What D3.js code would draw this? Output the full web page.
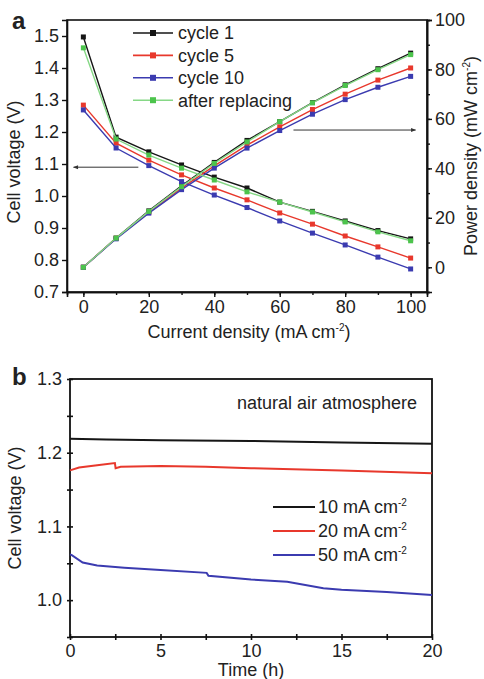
<!DOCTYPE html>
<html>
<head>
<meta charset="utf-8">
<script src="https://cdn.jsdelivr.net/npm/d3@7/dist/d3.min.js"></script>
<style>
  html, body { margin: 0; padding: 0; background: #fff; }
  svg { display: block; }
  text { font-family: "Liberation Sans", Arial, Helvetica, sans-serif; fill: #222; }
</style>
</head>
<body>
<svg id="fig" width="484" height="679"></svg>
<script>
// ---------- Panel a: polarization and power density curves ----------
const currents = [0, 10, 20, 30, 40, 50, 60, 70, 80, 90, 100];

const voltCycle1   = [1.497, 1.184, 1.138, 1.097, 1.059, 1.025, 0.981, 0.952, 0.922, 0.892, 0.866];
const voltCycle5   = [1.284, 1.165, 1.112, 1.066, 1.025, 0.988, 0.947, 0.912, 0.875, 0.841, 0.806];
const voltCycle10  = [1.269, 1.150, 1.095, 1.045, 1.003, 0.964, 0.922, 0.884, 0.847, 0.809, 0.772];
const voltReplaced = [1.463, 1.178, 1.128, 1.087, 1.050, 1.013, 0.981, 0.950, 0.919, 0.888, 0.860];

const powerCycle1   = [0, 11.8, 22.8, 32.9, 42.4, 51.3, 58.9, 66.6, 73.8, 80.3, 86.6];
const powerCycle5   = [0, 11.7, 22.2, 32.0, 41.0, 49.4, 56.8, 63.8, 70.0, 75.7, 80.6];
const powerCycle10  = [0, 11.5, 21.9, 31.4, 40.1, 48.2, 55.3, 61.9, 67.8, 72.8, 77.2];
const powerReplaced = [0, 11.8, 22.6, 32.6, 42.0, 50.7, 58.9, 66.5, 73.5, 79.9, 86.0];

const cycleNames = ["cycle 1", "cycle 5", "cycle 10", "after replacing"];

const currentTicks = [0, 20, 40, 60, 80, 100];
const voltTicksA   = [0.7, 0.8, 0.9, 1.0, 1.1, 1.2, 1.3, 1.4, 1.5];
const powerTicks   = [0, 20, 40, 60, 80, 100];

// ---------- Panel b: stability at constant current ----------
const time10 = [0, 2, 5, 10, 15, 20];
const volt10 = [1.219, 1.218, 1.217, 1.216, 1.214, 1.212];

const time20 = [0, 0.5, 1.5, 2.48, 2.52, 2.8, 5, 7.5, 10, 15, 20];
const volt20 = [1.176, 1.180, 1.183, 1.186, 1.179, 1.181, 1.182, 1.181, 1.179, 1.176, 1.172];

const time50 = [0, 0.1, 0.7, 1.5, 3, 5, 7.55, 7.65, 10, 12, 14, 15, 17.5, 20];
const volt50 = [1.062, 1.061, 1.051, 1.047, 1.044, 1.041, 1.037, 1.033, 1.028, 1.025, 1.016, 1.014, 1.011, 1.007];

const stabilityNames = ["10 mA cm", "20 mA cm", "50 mA cm"];
const timeTicks  = [0, 5, 10, 15, 20];
const voltTicksB = [1.0, 1.1, 1.2, 1.3];

// ---------- styling ----------
const colors = { black: "#161616", red: "#e8382c", blue: "#3b3bb0", green: "#4cc44c", greenLine: "#86d886" };
const FONT = 18;

const svg = d3.select("#fig");

// ================= Panel a =================
const A = { left: 67, right: 427, top: 20, bottom: 292 };
const xA  = d3.scaleLinear().domain([-5, 105]).range([A.left, A.right]);
const yAv = d3.scaleLinear().domain([0.7, 1.55]).range([A.bottom, A.top]);
const yAp = d3.scaleLinear().domain([-10, 100]).range([A.bottom, A.top]);

const gA = svg.append("g");

// frame
gA.append("rect")
  .attr("x", A.left).attr("y", A.top)
  .attr("width", A.right - A.left).attr("height", A.bottom - A.top)
  .attr("fill", "none").attr("stroke", "#111").attr("stroke-width", 1.6);

function styleAxis(g) {
  g.select(".domain").attr("stroke", "#111").attr("stroke-width", 1.6);
  g.selectAll(".tick line").attr("stroke", "#111").attr("stroke-width", 1.4);
  g.selectAll(".tick text").attr("font-size", FONT).attr("font-family", "Liberation Sans, Arial, sans-serif").attr("fill", "#222");
}

// bottom axis with minor ticks
gA.append("g").attr("transform", `translate(0,${A.bottom})`)
  .call(d3.axisBottom(xA).tickValues(d3.range(0, 101, 10)).tickSize(3).tickFormat(""))
  .call(styleAxis);
gA.append("g").attr("transform", `translate(0,${A.bottom})`)
  .call(d3.axisBottom(xA).tickValues(currentTicks).tickSize(5).tickPadding(3).tickFormat(d3.format("d")))
  .call(styleAxis);

// left axis (voltage)
gA.append("g").attr("transform", `translate(${A.left},0)`)
  .call(d3.axisLeft(yAv).tickValues(voltTicksA).tickSize(5).tickPadding(3).tickFormat(d3.format(".1f")))
  .call(styleAxis);

// right axis (power density) with minor ticks
gA.append("g").attr("transform", `translate(${A.right},0)`)
  .call(d3.axisRight(yAp).tickValues(d3.range(-10, 101, 10)).tickSize(3).tickFormat(""))
  .call(styleAxis);
gA.append("g").attr("transform", `translate(${A.right},0)`)
  .call(d3.axisRight(yAp).tickValues(powerTicks).tickSize(5).tickPadding(3).tickFormat(d3.format("d")))
  .call(styleAxis);

const seriesA = [
  { name: cycleNames[0], volt: voltCycle1,   power: powerCycle1,   line: colors.black, mark: colors.black },
  { name: cycleNames[1], volt: voltCycle5,   power: powerCycle5,   line: colors.red,   mark: colors.red },
  { name: cycleNames[2], volt: voltCycle10,  power: powerCycle10,  line: colors.blue,  mark: colors.blue },
  { name: cycleNames[3], volt: voltReplaced, power: powerReplaced, line: colors.greenLine, mark: colors.green }
];

const MS = 5; // marker size
seriesA.forEach(s => {
  const vPts = currents.map((c, i) => [c, s.volt[i]]);
  const pPts = currents.map((c, i) => [c, s.power[i]]);
  const lineV = d3.line().x(d => xA(d[0])).y(d => yAv(d[1]));
  const lineP = d3.line().x(d => xA(d[0])).y(d => yAp(d[1]));
  gA.append("path").attr("d", lineV(vPts)).attr("fill", "none").attr("stroke", s.line).attr("stroke-width", 1.4);
  gA.append("path").attr("d", lineP(pPts)).attr("fill", "none").attr("stroke", s.line).attr("stroke-width", 1.4);
  gA.selectAll(null).data(vPts.concat(pPts)).enter().append("rect")
    .attr("x", d => xA(d[0]) - MS / 2)
    .attr("y", (d, i) => (i < vPts.length ? yAv(d[1]) : yAp(d[1])) - MS / 2)
    .attr("width", MS).attr("height", MS)
    .attr("fill", s.mark);
});

// arrows pointing each curve family to its axis
const defs = svg.append("defs");
defs.append("marker").attr("id", "arrowhead")
  .attr("viewBox", "0 0 10 10").attr("refX", 9).attr("refY", 5)
  .attr("markerWidth", 7).attr("markerHeight", 5).attr("orient", "auto")
  .append("path").attr("d", "M0,1 L10,5 L0,9 Z").attr("fill", "#333");

gA.append("line")
  .attr("x1", xA(16.8)).attr("x2", xA(-3)).attr("y1", yAv(1.09)).attr("y2", yAv(1.09))
  .attr("stroke", "#333").attr("stroke-width", 1).attr("marker-end", "url(#arrowhead)");
gA.append("line")
  .attr("x1", xA(64.2)).attr("x2", xA(101.5)).attr("y1", yAp(55.5)).attr("y2", yAp(55.5))
  .attr("stroke", "#333").attr("stroke-width", 1).attr("marker-end", "url(#arrowhead)");

// legend
const legA = gA.append("g");
seriesA.forEach((s, i) => {
  const y = 33 + i * 22.4;
  legA.append("line").attr("x1", 133).attr("x2", 173).attr("y1", y).attr("y2", y)
    .attr("stroke", s.line).attr("stroke-width", 1.6);
  legA.append("rect").attr("x", 153 - 3).attr("y", y - 3).attr("width", 6).attr("height", 6).attr("fill", s.mark);
  legA.append("text").attr("x", 178).attr("y", y).attr("dy", "0.35em")
    .attr("font-size", FONT).text(s.name);
});

// axis titles
gA.append("text").attr("transform", `translate(20,${(A.top + A.bottom) / 2 + 6}) rotate(-90)`)
  .attr("text-anchor", "middle").attr("font-size", FONT).text("Cell voltage (V)");

const pTitle = gA.append("text").attr("transform", `translate(477,${(A.top + A.bottom) / 2}) rotate(-90)`)
  .attr("text-anchor", "middle").attr("font-size", FONT);
pTitle.append("tspan").text("Power density (mW cm");
pTitle.append("tspan").attr("font-size", 10).attr("dy", -7).text("-2");
pTitle.append("tspan").attr("dy", 7).text(")");

const xTitleA = gA.append("text").attr("x", (xA(0) + xA(100)) / 2 + 2).attr("y", 338)
  .attr("text-anchor", "middle").attr("font-size", FONT);
xTitleA.append("tspan").text("Current density (mA cm");
xTitleA.append("tspan").attr("font-size", 10).attr("dy", -7).text("-2");
xTitleA.append("tspan").attr("dy", 7).text(")");

svg.append("text").attr("x", 12).attr("y", 29).attr("font-size", 24).attr("font-weight", "bold").attr("fill", "#222").text("a");

// ================= Panel b =================
const B = { left: 70, right: 432, top: 379, bottom: 637 };
const xB = d3.scaleLinear().domain([0, 20]).range([B.left, B.right]);
const yB = d3.scaleLinear().domain([0.95, 1.3]).range([B.bottom, B.top]);

const gB = svg.append("g");
gB.append("rect")
  .attr("x", B.left).attr("y", B.top)
  .attr("width", B.right - B.left).attr("height", B.bottom - B.top)
  .attr("fill", "none").attr("stroke", "#111").attr("stroke-width", 1.8);

// ticks crossing the axis lines
function crossTicks(g) {
  g.selectAll(".tick line").attr("stroke", "#111").attr("stroke-width", 1.6);
}
gB.append("g").attr("transform", `translate(0,${B.bottom})`)
  .call(d3.axisBottom(xB).tickValues(d3.range(0, 20.01, 2.5)).tickSizeInner(3).tickSizeOuter(0).tickFormat(""))
  .call(g => g.select(".domain").remove())
  .call(g => g.selectAll(".tick line").attr("y1", -3))
  .call(crossTicks);
gB.append("g").attr("transform", `translate(0,${B.bottom})`)
  .call(d3.axisBottom(xB).tickValues(timeTicks).tickSize(3).tickPadding(4).tickFormat(d3.format("d")))
  .call(g => g.select(".domain").remove())
  .call(g => g.selectAll(".tick line").remove())
  .call(styleAxis);

gB.append("g").attr("transform", `translate(${B.left},0)`)
  .call(d3.axisLeft(yB).tickValues(d3.range(0, 8).map(i => 0.95 + i * 0.05)).tickSizeInner(3).tickSizeOuter(0).tickFormat(""))
  .call(g => g.select(".domain").remove())
  .call(g => g.selectAll(".tick line").attr("x1", 3))
  .call(crossTicks);
gB.append("g").attr("transform", `translate(${B.left},0)`)
  .call(d3.axisLeft(yB).tickValues(voltTicksB).tickSize(3).tickPadding(5).tickFormat(d3.format(".1f")))
  .call(g => g.select(".domain").remove())
  .call(g => g.selectAll(".tick line").remove())
  .call(styleAxis);

const seriesB = [
  { name: stabilityNames[0], t: time10, v: volt10, color: colors.black },
  { name: stabilityNames[1], t: time20, v: volt20, color: colors.red },
  { name: stabilityNames[2], t: time50, v: volt50, color: colors.blue }
];
const lineB = d3.line().x(d => xB(d[0])).y(d => yB(d[1]));
seriesB.forEach(s => {
  gB.append("path").attr("d", lineB(s.t.map((t, i) => [t, s.v[i]])))
    .attr("fill", "none").attr("stroke", s.color).attr("stroke-width", 2);
});

// legend
seriesB.forEach((s, i) => {
  const y = 507 + i * 24;
  gB.append("line").attr("x1", 273).attr("x2", 315).attr("y1", y).attr("y2", y)
    .attr("stroke", s.color).attr("stroke-width", 2);
  const t = gB.append("text").attr("x", 318).attr("y", y).attr("dy", "0.35em").attr("font-size", FONT);
  t.append("tspan").text(s.name);
  t.append("tspan").attr("font-size", 10).attr("dy", -7).text("-2");
});

gB.append("text").attr("x", 327).attr("y", 403).attr("dy", "0.35em")
  .attr("text-anchor", "middle").attr("font-size", FONT).text("natural air atmosphere");

gB.append("text").attr("transform", `translate(21,${(B.top + B.bottom) / 2}) rotate(-90)`)
  .attr("text-anchor", "middle").attr("font-size", FONT).text("Cell voltage (V)");

gB.append("text").attr("x", xB(10)).attr("y", 676)
  .attr("text-anchor", "middle").attr("font-size", FONT).text("Time (h)");

svg.append("text").attr("x", 12).attr("y", 385).attr("font-size", 24).attr("font-weight", "bold").attr("fill", "#222").text("b");
</script>
</body>
</html>
